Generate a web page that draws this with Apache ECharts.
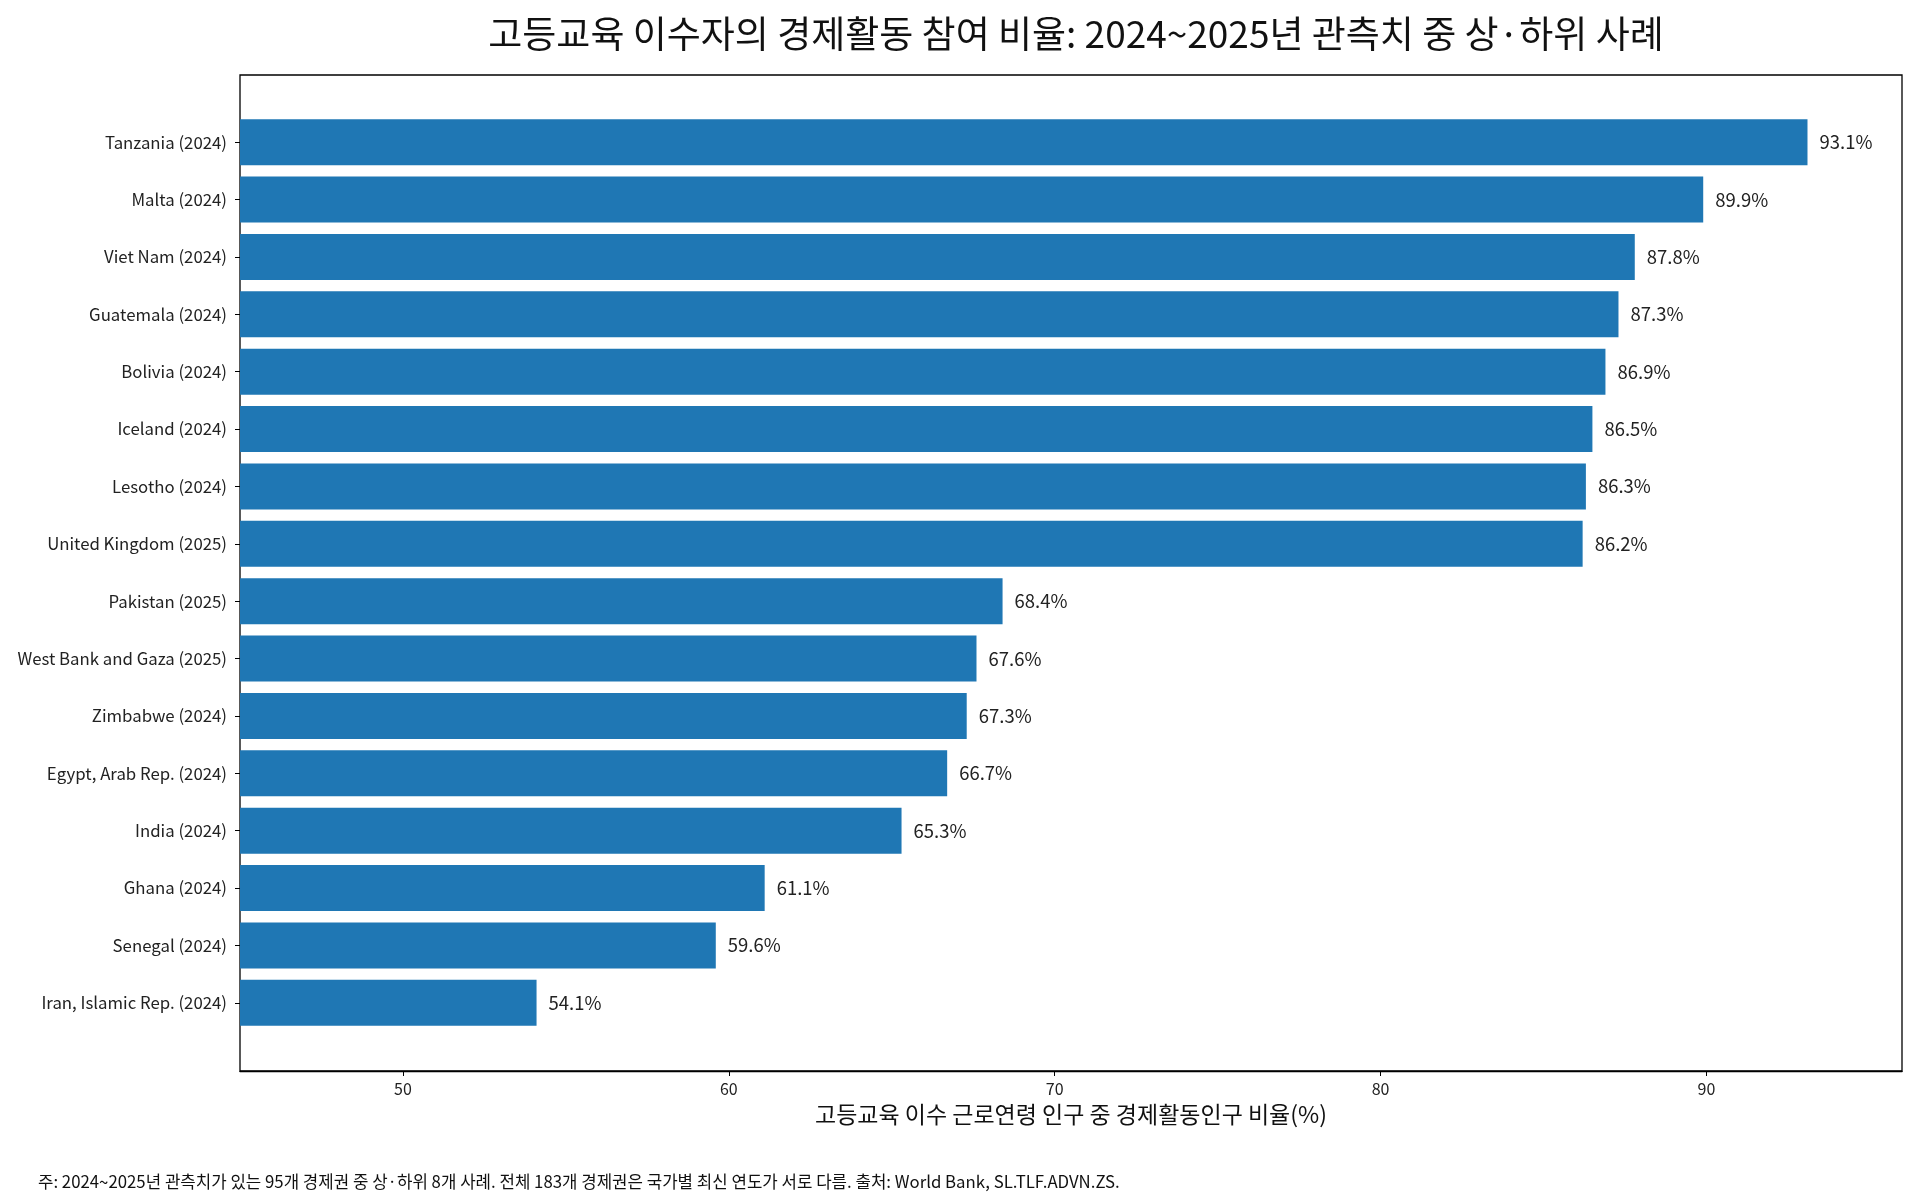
<!DOCTYPE html>
<html>
<head>
<meta charset="utf-8">
<script src="https://cdn.jsdelivr.net/npm/echarts@6/dist/echarts.min.js"></script>
<style>
html,body{margin:0;padding:0;background:#fff;}
#chart{width:1920px;height:1200px;}
</style>
</head>
<body>
<div id="chart"></div>
<script>
const categories = [
  "Tanzania (2024)", "Malta (2024)", "Viet Nam (2024)", "Guatemala (2024)",
  "Bolivia (2024)", "Iceland (2024)", "Lesotho (2024)", "United Kingdom (2025)",
  "Pakistan (2025)", "West Bank and Gaza (2025)", "Zimbabwe (2024)", "Egypt, Arab Rep. (2024)",
  "India (2024)", "Ghana (2024)", "Senegal (2024)", "Iran, Islamic Rep. (2024)"
];
const values = [93.1, 89.9, 87.8, 87.3, 86.9, 86.5, 86.3, 86.2, 68.4, 67.6, 67.3, 66.7, 65.3, 61.1, 59.6, 54.1];
const xTicks = [50, 60, 70, 80, 90];
const titleText = "고등교육 이수자의 경제활동 참여 비율: 2024~2025년 관측치 중 상·하위 사례";
const xAxisTitle = "고등교육 이수 근로연령 인구 중 경제활동인구 비율(%)";
const footnote = "주: 2024~2025년 관측치가 있는 95개 경제권 중 상·하위 8개 사례. 전체 183개 경제권은 국가별 최신 연도가 서로 다름. 출처: World Bank, SL.TLF.ADVN.ZS.";

const FONT = '"Noto Sans CJK KR", "Noto Sans", sans-serif';
const chart = echarts.init(document.getElementById('chart'));
chart.setOption({
  backgroundColor: '#fff',
  animation: false,
  textStyle: { fontFamily: FONT },
  title: [
    { text: titleText, left: 1071, textAlign: 'center', top: 10,
      textStyle: { fontFamily: FONT, fontSize: 37, fontWeight: 'normal', color: '#111' } },
    { text: footnote, left: 33, top: 1168,
      textStyle: { fontFamily: FONT, fontSize: 16.8, fontWeight: 'normal', color: '#111' } }
  ],
  grid: [
    { left: 240, top: 113.5, width: 1662, height: 918, containLabel: false },
    { left: 240, top: 75, width: 1662, height: 996, show: true, borderColor: '#000', borderWidth: 1.3, backgroundColor: 'transparent', containLabel: false }
  ],
  xAxis: [
    { type: 'value', gridIndex: 0, min: 45, max: 96, show: false },
    { type: 'value', gridIndex: 1, min: 45, max: 96, position: 'bottom',
      axisLine: { show: true, lineStyle: { color: '#000', width: 1.3 } },
      axisTick: { show: true, length: 5, lineStyle: { color: '#000', width: 1 }, customValues: xTicks },
      axisLabel: { show: true, margin: 10, fontSize: 16, color: '#222', fontFamily: FONT, customValues: xTicks },
      splitLine: { show: false },
      name: xAxisTitle, nameLocation: 'middle', nameGap: 32,
      nameTextStyle: { fontSize: 23, color: '#111', fontFamily: FONT } }
  ],
  yAxis: [
    { type: 'category', gridIndex: 0, data: categories, inverse: true,
      axisLine: { show: false },
      axisTick: { show: true, alignWithLabel: true, length: 5, lineStyle: { color: '#000', width: 1 } },
      axisLabel: { margin: 13, fontSize: 16.8, color: '#222', fontFamily: FONT } },
    { type: 'value', gridIndex: 1, show: false, min: 0, max: 1 }
  ],
  series: [
    { type: 'bar', xAxisIndex: 0, yAxisIndex: 0, data: values, barWidth: '80%',
      itemStyle: { color: '#1f77b4' },
      label: { show: true, position: 'right', distance: 12, fontSize: 18.5, color: '#222', fontFamily: FONT,
        formatter: p => p.value.toFixed(1) + '%' } }
  ]
});
</script>
</body>
</html>
